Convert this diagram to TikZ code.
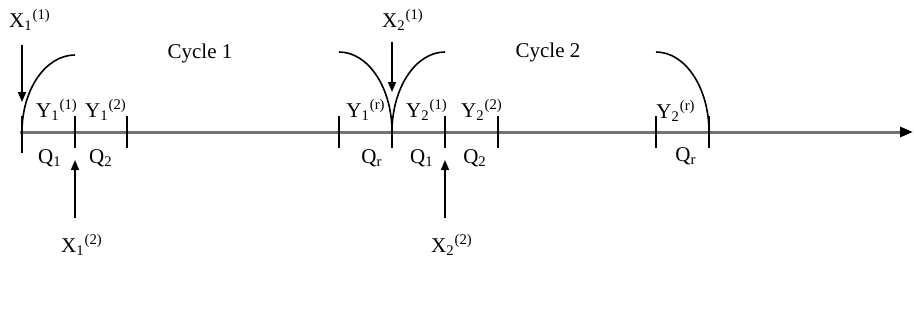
\documentclass[tikz,border=0pt]{standalone}
\usepackage{fontspec}
\setmainfont{Liberation Serif}
\usetikzlibrary{arrows.meta}
\newcommand{\var}[3]{#1\textsubscript{#2}\textsuperscript{(#3)}}

\begin{document}
\begin{tikzpicture}[x=0.5pt,y=0.5pt,font=\fontsize{10.5}{12}\selectfont,
  timeaxis/.style={line width=1.5pt,black!55,-{Triangle[length=6.5pt,width=5pt,black]}},
  tickline/.style={line width=1pt},
  cyclearc/.style={line width=0.8pt},
  inarrow/.style={line width=0.8pt,-{Triangle[length=5pt,width=4pt]}},
  lbl/.style={inner sep=1pt}]
\useasboundingbox (0,0) rectangle (914,322);
\coordinate (o) at (20,190); \coordinate (e) at (913,190);
\draw[timeaxis] (o)--(e);
\draw[tickline] (22,169)--(22,206); \draw[tickline] (75,174)--(75,206); \draw[tickline] (127,174)--(127,206);
\draw[tickline] (339,174)--(339,206); \draw[tickline,line width=1.4pt] (392,174)--(392,206);
\draw[tickline] (445,174)--(445,206); \draw[tickline] (498,174)--(498,206);
\draw[tickline] (656,174)--(656,206); \draw[tickline,line width=1.4pt] (709,174)--(709,206);
\draw[cyclearc] (22,190) arc[start angle=180,end angle=90,x radius=53,y radius=77];
\draw[cyclearc] (339,270) arc[start angle=90,end angle=0,x radius=53,y radius=80];
\draw[cyclearc] (392,190) arc[start angle=180,end angle=90,x radius=53,y radius=80];
\draw[cyclearc] (656,270) arc[start angle=90,end angle=0,x radius=53,y radius=80];
\node[lbl] (c1) at (200,269) {Cycle 1}; \node[lbl] (c2) at (548,270) {Cycle 2};
\node[lbl] (x11) at (30,302) {\var{X}{1}{1}}; \node[lbl] (x12) at (82,77) {\var{X}{1}{2}};
\node[lbl] (x21) at (403,302) {\var{X}{2}{1}}; \node[lbl] (x22) at (452,77) {\var{X}{2}{2}};
\coordinate (a11) at (22,277); \coordinate (b11) at (22,220);
\coordinate (a12) at (75,104); \coordinate (b12) at (75,162);
\coordinate (a21) at (392,280); \coordinate (b21) at (392,230);
\coordinate (a22) at (445,104); \coordinate (b22) at (445,162);
\draw[inarrow] (a11)--(b11); \draw[inarrow] (a12)--(b12);
\draw[inarrow] (a21)--(b21); \draw[inarrow] (a22)--(b22);
\node[lbl] (y11) at (57,212) {\var{Y}{1}{1}}; \node[lbl] (y12) at (106,212) {\var{Y}{1}{2}};
\node[lbl] (y1r) at (366,212) {\var{Y}{1}{r}}; \node[lbl] (y21) at (427,212) {\var{Y}{2}{1}};
\node[lbl] (y22) at (482,212) {\var{Y}{2}{2}}; \node[lbl] (y2r) at (676,211) {\var{Y}{2}{r}};
\node[lbl] (q11) at (50,164) {Q\textsubscript{1}}; \node[lbl] (q12) at (101,164) {Q\textsubscript{2}};
\node[lbl] (q1r) at (372,164) {Q\textsubscript{r}}; \node[lbl] (q21) at (422,164) {Q\textsubscript{1}};
\node[lbl] (q22) at (475,164) {Q\textsubscript{2}}; \node[lbl] (q2r) at (686,166) {Q\textsubscript{r}};
\end{tikzpicture}
\end{document}
